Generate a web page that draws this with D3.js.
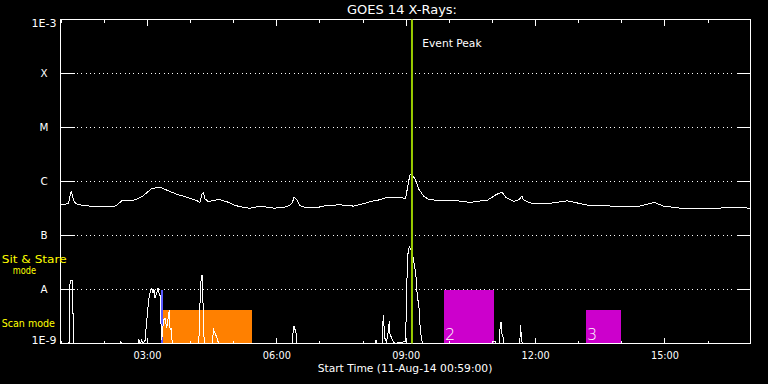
<!DOCTYPE html>
<html><head><meta charset="utf-8">
<script src="https://cdn.jsdelivr.net/npm/d3@7"></script>
<style>
html,body{margin:0;padding:0;background:#000;}
svg{display:block;background:#000;}
text{font-family:"DejaVu Sans",sans-serif;fill:#fff;}
</style></head><body>
<svg id="chart" width="768" height="384"></svg>
<script>
// ---------------- data ----------------
const chartTitle = "GOES 14 X-Rays:";
const xTitle = "Start Time (11-Aug-14 00:59:00)";
const day = "2014-08-11";
const timeStart = "00:59:00", timeEnd = "16:59:00";

const levelValues = [1e-9, 1e-8, 1e-7, 1e-6, 1e-5, 1e-4, 1e-3];
const levelLabels = ["1E-9", "A", "B", "C", "M", "X", "1E-3"];
const gridLevels = [1e-8, 1e-7, 1e-6, 1e-5, 1e-4];

const hourTicks = ["01:00","02:00","03:00","04:00","05:00","06:00","07:00","08:00",
                   "09:00","10:00","11:00","12:00","13:00","14:00","15:00","16:00"];
const majorTicks = ["03:00","06:00","09:00","12:00","15:00"];

// GOES long channel flux (W/m^2)
const goesTime = ["01:00","01:05","01:10","01:12","01:14","01:16","01:18","01:22","01:31","01:50",
  "02:15","02:20","02:24","02:36","02:43","02:52","02:59","03:06","03:13","03:20",
  "03:27","03:41","03:55","04:09","04:13","04:16","04:18","04:20","04:25","04:32",
  "04:41","04:51","05:02","05:14","05:23","05:37","05:56","06:14","06:21","06:24",
  "06:28","06:32","06:40","06:56","07:10","07:28","07:47","08:01","08:15","08:24",
  "08:33","08:52","08:59","09:02","09:05","09:08","09:13","09:17","09:24","09:31",
  "09:41","10:11","10:29","10:39","10:53","11:04","11:13","11:19","11:30","11:37",
  "11:41","11:43","11:50","11:57","12:16","12:35","12:44","13:02","13:14","13:49",
  "14:21","14:35","14:45","14:58","15:22","15:36","16:08","16:41","16:59"];
const goesFlux = [3.8e-7,3.8e-7,3.9e-7,5.2e-7,6.5e-7,5.2e-7,4.2e-7,3.8e-7,3.6e-7,3.4e-7,
  3.5e-7,3.9e-7,4.4e-7,4.4e-7,4.6e-7,5.2e-7,6.2e-7,7.4e-7,7.7e-7,7.6e-7,
  6.9e-7,5.8e-7,5.1e-7,4.4e-7,4.1e-7,6.0e-7,6.2e-7,4.8e-7,4.2e-7,4.5e-7,
  4.6e-7,4.2e-7,3.6e-7,3.3e-7,3.2e-7,3.5e-7,3.2e-7,3.4e-7,3.9e-7,5.1e-7,
  4.5e-7,3.6e-7,3.3e-7,3.3e-7,3.6e-7,3.7e-7,3.5e-7,3.9e-7,4.4e-7,4.6e-7,
  5.1e-7,5.1e-7,4.8e-7,7.9e-7,1.31e-6,1.36e-6,1.06e-6,7.4e-7,5.4e-7,4.7e-7,
  4.5e-7,4.4e-7,4.1e-7,4.3e-7,4.5e-7,5.6e-7,6.4e-7,5.0e-7,4.3e-7,4.6e-7,
  5.4e-7,4.6e-7,4.1e-7,3.9e-7,3.9e-7,4.2e-7,4.4e-7,3.9e-7,3.6e-7,3.5e-7,
  3.4e-7,3.8e-7,4.1e-7,3.5e-7,3.2e-7,3.1e-7,3.2e-7,3.3e-7,3.2e-7];

// lower light curve
const lowTime = ["01:00:00","01:10:50","01:11:30","01:12:40","01:15:25","01:16:05","01:16:50",
  "02:22:00","02:23:00","02:24:00","02:47:00","02:48:00","02:50:00","02:52:00","02:54:00",
  "02:57:00","02:58:00","03:00:00","03:01:40","03:03:30","03:04:20","03:05:50","03:06:30",
  "03:07:40","03:09:00","03:10:30","03:12:00","03:14:40","03:16:00","03:18:00","03:19:20",
  "03:21:10","03:22:00","03:24:25","03:26:45","03:29:00","03:30:20","03:31:30","03:32:45",
  "03:34:10","03:36:00",
  "04:11:20","04:12:10","04:13:30","04:14:50","04:15:50","04:16:50","04:17:40","04:18:40","04:19:40",
  "04:30:00","04:32:00","04:34:00","04:36:00","04:39:00",
  "06:21:30","06:22:10","06:23:00","06:24:00","06:25:00","06:26:20","06:27:10","06:28:00",
  "08:17:00","08:18:00","08:19:00",
  "08:26:20","08:27:10","08:28:00","08:29:00","08:30:20","08:32:40",
  "08:35:00","08:36:30","08:37:20","08:39:40","08:42:00","08:44:00",
  "08:58:20","08:59:15","09:00:40","09:01:30","09:02:55","09:04:20","09:05:40","09:07:35",
  "09:09:50","09:12:10","09:13:35","09:14:35","09:16:00","09:17:20","09:18:10","09:19:10",
  "09:20:35","09:22:00","09:23:45",
  "10:59:00","11:00:30","11:04:00","11:05:00",
  "11:09:00","11:10:00","11:11:00","11:12:00","11:13:00","11:14:00","11:15:00","11:16:00",
  "11:38:00","11:39:00","11:40:00","11:41:00","11:42:00","16:59:00"];
const lowFlux = [1e-9,1e-9,1.0e-8,1.44e-8,1.44e-8,1.0e-8,1e-9,
  1e-9,1.1e-9,1e-9,1e-9,1.16e-9,1e-9,1.16e-9,1e-9,
  1.16e-9,1.9e-9,3.7e-9,6.4e-9,8.6e-9,9.8e-9,1.05e-8,1.02e-8,
  8.5e-9,1.01e-8,6.9e-9,7.9e-9,1.05e-8,8.7e-9,7.4e-9,1.16e-9,
  1.56e-9,2.72e-9,2.93e-9,1.94e-9,3.13e-9,4.17e-9,1.77e-9,1.91e-9,
  1.16e-9,1e-9,
  1e-9,2.05e-9,8.5e-9,1.73e-8,1.86e-8,1.39e-8,2.72e-9,1.34e-9,1e-9,
  1e-9,1.78e-9,1.54e-9,1.34e-9,1e-9,
  1e-9,1.34e-9,1.91e-9,2.11e-9,1.78e-9,1.78e-9,1.34e-9,1e-9,
  1e-9,1.16e-9,1e-9,
  1e-9,1.65e-9,3.37e-9,2.2e-9,1.25e-9,1.08e-9,
  1.65e-9,2.61e-9,1.54e-9,1.25e-9,1.1e-9,1e-9,
  1.08e-9,1.44e-9,7.9e-9,3.27e-8,5.38e-8,6.21e-8,5.8e-8,5.01e-8,
  3.79e-8,2.47e-8,1.73e-8,1.05e-8,6.4e-9,5.94e-9,3.62e-9,2.2e-9,
  1.44e-9,1.1e-9,1e-9,
  1e-9,1.08e-9,1.08e-9,1e-9,
  1e-9,1.44e-9,2.37e-9,2.53e-9,1.54e-9,1.44e-9,1.26e-9,1e-9,
  1e-9,2.2e-9,1.44e-9,1.08e-9,1e-9,1e-9];

// observation blocks
const obsStart = ["03:19:00","03:22:00","09:52:40","13:10:00"];
const obsEnd   = ["03:22:00","05:25:00","11:02:00","13:59:30"];
const obsMode  = ["sitstare","scan","sitstare","scan"];
const obsGroup = [0, 1, 2, 2];
const obsLabel = ["", "", "2", "3"];
const modeTop = {sitstare: 1e-8, scan: 4.1e-9};

const eventPeak = "09:08:00";
const eventLabel = "Event Peak";
const modeText1 = ["Sit & Stare", "mode"];
const modeText2 = "Scan mode";

// ---------------- style ----------------
const groupColors = ["#5a5aff", "#ff8000", "#cc00cc"];
const eventColor = "#99cc00";
const yellow = "#ffff00";

// ---------------- drawing ----------------
const parse = s => new Date(day + "T" + (s.length === 5 ? s + ":00" : s) + "Z");
const svg = d3.select("#chart");

const x = d3.scaleUtc().domain([parse(timeStart), parse(timeEnd)]).range([60.5, 750.5]);
const y = d3.scaleLog().domain([1e-9, 1e-3]).range([343.5, 19.5]);

// dotted grid
svg.append("g").selectAll("line").data(gridLevels).join("line")
  .attr("x1", 77).attr("x2", 736)
  .attr("y1", d => y(d)).attr("y2", d => y(d))
  .attr("stroke", "#fff").attr("stroke-width", 1)
  .attr("stroke-dasharray", "1 3.333")
  .attr("shape-rendering", "crispEdges");

// observation blocks
const obs = obsStart.map((s, i) => ({s: parse(s), e: parse(obsEnd[i]), top: modeTop[obsMode[i]], g: obsGroup[i], lab: obsLabel[i]}));
svg.append("g").selectAll("rect").data(obs).join("rect")
  .attr("x", d => x(d.s)).attr("width", d => x(d.e) - x(d.s))
  .attr("y", d => y(d.top)).attr("height", d => y(1e-9) - y(d.top))
  .attr("fill", d => groupColors[d.g])
  .attr("shape-rendering", "crispEdges");

// lines
const line = d3.line().x(d => x(d.t)).y(d => y(d.v));
const lowData = lowTime.map((t, i) => ({t: parse(t), v: lowFlux[i]}));
const goesData = goesTime.map((t, i) => ({t: parse(t), v: goesFlux[i]}));
svg.append("path").datum(lowData).attr("d", line)
  .attr("fill", "none").attr("stroke", "#fff").attr("stroke-width", 1)
  .attr("shape-rendering", "crispEdges");
svg.append("path").datum(goesData).attr("d", line)
  .attr("fill", "none").attr("stroke", "#fff").attr("stroke-width", 1)
  .attr("shape-rendering", "crispEdges");

// block labels
svg.append("g").selectAll("text").data(obs.filter(d => d.lab)).join("text")
  .attr("x", d => x(d.s) + 1).attr("y", 339.5)
  .style("font-size", "16px").style("font-weight", "200").text(d => d.lab);

// axes
function clean(g) {
  g.select(".domain").remove();
  g.attr("color", "#fff").attr("font-family", null).attr("font-size", null);
  g.selectAll("line").attr("shape-rendering", "crispEdges");
}
svg.append("g").attr("transform", "translate(0,343.5)")
  .call(d3.axisBottom(x).offset(0).tickValues(hourTicks.map(parse)).tickSize(-3).tickFormat(""))
  .call(clean);
const xb = svg.append("g").attr("transform", "translate(0,343.5)")
  .call(d3.axisBottom(x).offset(0).tickValues(majorTicks.map(parse)).tickSize(-6)
        .tickFormat(d3.utcFormat("%H:%M")))
  .call(clean);
xb.selectAll("text").attr("y", 15.5).attr("dy", null)
  .style("font-size", "10.3px").attr("textLength", 28).attr("lengthAdjust", "spacingAndGlyphs");
svg.append("g").attr("transform", "translate(0,19.5)")
  .call(d3.axisTop(x).offset(0).tickValues(hourTicks.map(parse)).tickSize(-3).tickFormat(""))
  .call(clean);
svg.append("g").attr("transform", "translate(0,19.5)")
  .call(d3.axisTop(x).offset(0).tickValues(majorTicks.map(parse)).tickSize(-6).tickFormat(""))
  .call(clean);

const yl = svg.append("g").attr("transform", "translate(60.5,0)")
  .call(d3.axisLeft(y).offset(0).tickValues(levelValues).tickSize(-14)
        .tickFormat((d, i) => levelLabels[i]))
  .call(clean);
yl.selectAll("text")
  .attr("x", -16.5).attr("text-anchor", "middle").attr("dy", null)
  .attr("y", d => Math.min(Math.max(y(d), 23.5), 340) + 3.8 - y(d))
  .style("font-size", "10.3px")
  .each(function(d, i) { if (levelLabels[i].length > 1) d3.select(this).attr("textLength", 25).attr("lengthAdjust", "spacingAndGlyphs"); });
svg.append("g").attr("transform", "translate(750.5,0)")
  .call(d3.axisRight(y).offset(0).tickValues(levelValues).tickSize(-14).tickFormat(""))
  .call(clean);

// frame
svg.append("rect").attr("x", 60.5).attr("y", 19.5).attr("width", 690).attr("height", 324)
  .attr("fill", "none").attr("stroke", "#fff").attr("shape-rendering", "crispEdges");

// event peak line
const ex = x(parse(eventPeak));
svg.append("line").attr("x1", ex).attr("x2", ex).attr("y1", 19.5).attr("y2", 343.5)
  .attr("stroke", eventColor).attr("stroke-width", 2);
svg.append("text").attr("x", ex + 10.3).attr("y", 46.7).style("font-size", "11px")
  .attr("textLength", 59.3).attr("lengthAdjust", "spacingAndGlyphs").text(eventLabel);

// titles
svg.append("text").attr("x", 402).attr("y", 14).attr("text-anchor", "middle")
  .style("font-size", "12.3px").attr("textLength", 110).attr("lengthAdjust", "spacingAndGlyphs")
  .text(chartTitle);
svg.append("text").attr("x", 405).attr("y", 371.7).attr("text-anchor", "middle")
  .style("font-size", "10.3px").attr("textLength", 174.7).attr("lengthAdjust", "spacingAndGlyphs")
  .text(xTitle);

// mode labels
svg.append("text").attr("x", 1.7).attr("y", 262.7).style("font-size", "10.8px").style("fill", yellow)
  .attr("textLength", 65).attr("lengthAdjust", "spacingAndGlyphs").text(modeText1[0]);
svg.append("text").attr("x", 12.7).attr("y", 274.3).style("font-size", "10.8px").style("fill", yellow)
  .attr("textLength", 23.3).attr("lengthAdjust", "spacingAndGlyphs").text(modeText1[1]);
svg.append("text").attr("x", 1.7).attr("y", 327.3).style("font-size", "10.8px").style("fill", yellow)
  .attr("textLength", 53.3).attr("lengthAdjust", "spacingAndGlyphs").text(modeText2);
</script>
</body></html>
